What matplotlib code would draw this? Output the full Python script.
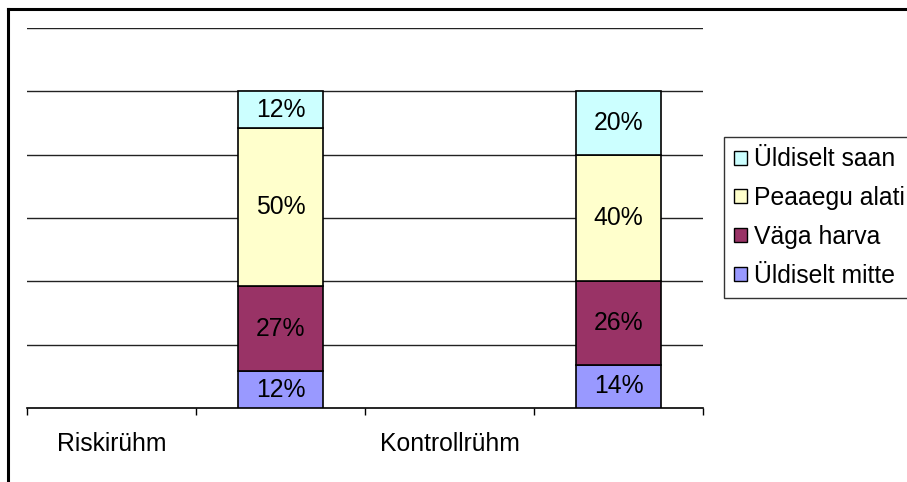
import matplotlib.pyplot as plt
from matplotlib.lines import Line2D
from matplotlib.patches import Patch

plt.rcParams['font.family'] = ['Liberation Sans', 'DejaVu Sans']

# andmed
categories = ['Riskirühm', '', 'Kontrollrühm', '']
bar_pos = [1, 3]
series = ['Üldiselt mitte', 'Väga harva', 'Peaaegu alati', 'Üldiselt saan']
colors = ['#9999FF', '#993366', '#FFFFCC', '#CCFFFF']
mitte = [0.116, 0.137]
harva = [0.268, 0.264]
alati = [0.500, 0.397]
saan = [0.116, 0.202]
values = [mitte, harva, alati, saan]

W, H = 907, 482
FS = 17.8
fig = plt.figure(figsize=(W / 100, H / 100), dpi=100)
ax = fig.add_axes([27 / W, 1 - 408 / H, (703 - 27) / W, (408 - 28) / H])

bottom = [0, 0]
for name, vals, c in zip(series, values, colors):
    bars = ax.bar(bar_pos, vals, width=0.5, bottom=bottom, color=c,
                  edgecolor='black', linewidth=1.2, label=name, zorder=3)
    for b, v, b0 in zip(bar_pos, vals, bottom):
        ax.text(b, b0 + v / 2, '{:.0%}'.format(v), ha='center', va='center',
                fontsize=FS, zorder=4)
    bottom = [b0 + v for b0, v in zip(bottom, vals)]

ax.set_xlim(-0.5, 3.5)
ax.set_ylim(0, 1.2)
ax.set_yticks([0.2, 0.4, 0.6, 0.8, 1.0, 1.2])
ax.yaxis.grid(True, color='#222222', linewidth=1.0)
ax.set_axisbelow(True)
ax.tick_params(axis='y', left=False, labelleft=False)

ax.set_xticks([-0.5, 0.5, 1.5, 2.5, 3.5])
ax.set_xticklabels([])
ax.tick_params(axis='x', which='major', direction='out', length=5, width=1, color='black')
ax.set_xticks([0, 2], minor=True)
ax.set_xticklabels([categories[0], categories[2]], minor=True, fontsize=FS)
ax.tick_params(axis='x', which='minor', length=0, pad=17)

for s in ['left', 'right', 'top']:
    ax.spines[s].set_visible(False)
ax.spines['bottom'].set_color('black')
ax.spines['bottom'].set_linewidth(1.2)

handles = [Patch(facecolor=c, edgecolor='black', linewidth=1) for c in colors][::-1]
leg = fig.legend(handles, series[::-1], loc='upper left',
                 bbox_to_anchor=(724 / W, 1 - 137 / H), fontsize=FS,
                 frameon=True, fancybox=False, edgecolor='black',
                 handlelength=0.5, handleheight=0.5, handletextpad=0.3,
                 labelspacing=0.6, borderpad=0.42, borderaxespad=0)
leg.get_frame().set_linewidth(1)

# raam
fig.add_artist(Line2D([8 / W, 8 / W], [0, 1 - 9 / H], color='black', linewidth=2.2))
fig.add_artist(Line2D([8 / W, 1], [1 - 9 / H, 1 - 9 / H], color='black', linewidth=2.2))

fig.savefig('out.png', dpi=100)
